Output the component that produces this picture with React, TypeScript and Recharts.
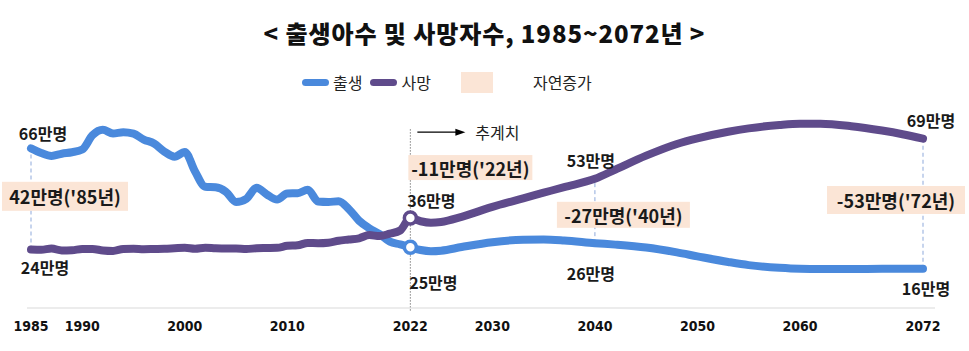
import { LineChart, Line, XAxis, YAxis, ReferenceLine, ReferenceDot } from "recharts";

// 연도별 출생아수 / 사망자수 (만명), 2023년 이후는 추계치
const years = [
  1985, 1986, 1987, 1988, 1989, 1990, 1991, 1992, 1993, 1994,
  1995, 1996, 1997, 1998, 1999, 2000, 2001, 2002, 2003, 2004,
  2005, 2006, 2007, 2008, 2009, 2010, 2011, 2012, 2013, 2014,
  2015, 2016, 2017, 2018, 2019, 2020, 2021, 2022,
  2023, 2024, 2025, 2027, 2030, 2033, 2035, 2037, 2040, 2042,
  2045, 2048, 2050, 2053, 2055, 2058, 2060, 2062, 2065, 2068, 2070, 2072,
];

const births = [
  65.5, 63.6, 62.4, 63.3, 63.9, 65.0, 70.9, 73.1, 71.6, 72.1,
  71.5, 69.1, 67.5, 64.2, 62.1, 64.0, 56.0, 49.7, 49.5, 47.7,
  43.5, 44.8, 49.3, 46.6, 44.5, 47.0, 47.1, 48.5, 43.7, 43.5,
  43.8, 40.6, 35.8, 32.7, 30.3, 27.2, 26.1, 24.9,
  23.8, 23.3, 23.5, 25.0, 27.0, 28.0, 28.1, 27.7, 26.6, 26.0,
  24.8, 22.8, 21.2, 18.9, 17.6, 16.5, 16.1, 16.0, 16.0, 16.1, 16.1, 16.1,
];

const deaths = [
  24.0, 23.9, 24.4, 23.6, 23.7, 24.2, 24.2, 23.6, 23.4, 24.2,
  24.3, 24.1, 24.2, 24.3, 24.5, 24.7, 24.3, 24.7, 24.5, 24.4,
  24.4, 24.2, 24.5, 24.6, 24.7, 25.5, 25.7, 26.7, 26.6, 26.8,
  27.6, 28.1, 28.6, 29.9, 29.5, 30.5, 31.8, 36.9,
  35.6, 35.0, 35.3, 37.4, 41.5, 45.0, 47.3, 49.6, 53.0, 56.8,
  62.5, 67.3, 69.6, 72.3, 73.7, 75.1, 75.6, 75.6, 74.6, 72.8, 71.3, 69.5,
];

const xTicks = [1985, 1990, 2000, 2010, 2022, 2030, 2040, 2050, 2060, 2072];

// 라벨: 기준점(연도, 값)과 문구
const valueNotes = [
  { year: 1985, value: 65.5, text: "66만명", dx: 12, dy: -15 },
  { year: 1985, value: 24.0, text: "24만명", dx: 14, dy: 17.5 },
  { year: 2022, value: 36.9, text: "36만명", dx: 21, dy: -18 },
  { year: 2022, value: 24.9, text: "25만명", dx: 23, dy: 35 },
  { year: 2040, value: 53.0, text: "53만명", dx: -4, dy: -19 },
  { year: 2040, value: 26.6, text: "26만명", dx: -4, dy: 30 },
  { year: 2072, value: 69.5, text: "69만명", dx: 8, dy: -18.6 },
  { year: 2072, value: 16.1, text: "16만명", dx: 3, dy: 19 },
];

const gapNotes = [
  { year: 1985, value: 45.0, text: "42만명('85년)", dx: 34, dy: -2, w: 126, h: 29 },
  { year: 2022, value: 36.9, text: "-11만명('22년)", dx: 60, dy: -50.5, w: 124, h: 25 },
  { year: 2040, value: 53.0, text: "-27만명('40년)", dx: 28.5, dy: 36, w: 133, h: 26 },
  { year: 2072, value: 69.5, text: "-53만명('72년)", dx: -27, dy: 61.4, w: 138, h: 28 },
];

const gapLines = [
  { year: 1985, from: 24.0, to: 65.5 },
  { year: 2040, from: 26.6, to: 53.0 },
  { year: 2072, from: 16.1, to: 69.5 },
];

const BLUE = "#4A89DC";
const PURPLE = "#5F4B8B";
const PEACH = "#FBE5D6";
const KR = "'Noto Sans CJK KR', 'Noto Sans', sans-serif";

const data = years.map((year, i) => ({ year, birth: births[i], death: deaths[i] }));

const App = () => {
  return (
    <div style={{ position: "absolute", left: 0, top: 0, width: 969, height: 351, background: "#fff", overflow: "hidden" }}>
      <div
        style={{
          position: "absolute", top: 17, left: 0, width: 969, textAlign: "center",
          fontFamily: KR, fontWeight: 900, fontSize: 24, lineHeight: "32px", color: "#111", letterSpacing: 0.9,
        }}
      >
        {"< 출생아수 및 사망자수, 1985~2072년 >"}
      </div>

      <div
        style={{
          position: "absolute", top: 71, left: 302, height: 22, display: "flex", alignItems: "center",
          fontFamily: KR, fontSize: 16, color: "#222",
        }}
      >
        <span style={{ width: 27, height: 7, borderRadius: 4, background: BLUE }} />
        <span style={{ marginLeft: 4 }}>출생</span>
        <span style={{ width: 27, height: 7, borderRadius: 4, background: PURPLE, marginLeft: 8 }} />
        <span style={{ marginLeft: 4 }}>사망</span>
        <span style={{ width: 32, height: 21, background: PEACH, marginLeft: 30 }} />
        <span style={{ marginLeft: 40 }}>자연증가</span>
      </div>

      <div style={{ position: "absolute", left: 0, top: 0 }}>
        <LineChart width={969} height={351} data={data} margin={{ top: 113, right: 34, bottom: 13, left: 27 }}>
          <XAxis
            dataKey="year"
            type="number"
            domain={[1985, 2072]}
            ticks={xTicks}
            interval={0}
            padding={{ left: 4, right: 12 }}
            height={30}
            axisLine={{ stroke: "#D9D9D9" }}
            tickLine={false}
            tickSize={6}
            tickMargin={7}
            tick={{ fill: "#111", fontSize: 14, fontWeight: 700, fontFamily: "'Liberation Sans Narrow', 'DejaVu Sans Condensed', sans-serif" }}
          />
          <YAxis hide domain={[0, 80]} />

          <ReferenceLine
            segment={[{ x: 2022, y: -1 }, { x: 2022, y: 74 }]}
            stroke="#444"
            strokeDasharray="1 2"
            ifOverflow="visible"
          />
          {gapLines.map((g) => (
            <ReferenceLine
              key={g.year}
              segment={[{ x: g.year, y: g.from }, { x: g.year, y: g.to }]}
              stroke="#8EA9DB"
              strokeDasharray="4 3"
              ifOverflow="visible"
            />
          ))}

          <Line type="monotone" dataKey="birth" stroke={BLUE} strokeWidth={8} strokeLinecap="round" dot={false} isAnimationActive={false} />
          <Line type="monotone" dataKey="death" stroke={PURPLE} strokeWidth={8} strokeLinecap="round" dot={false} isAnimationActive={false} />

          <ReferenceDot x={2022} y={births[37]} r={6} fill="#fff" stroke={BLUE} strokeWidth={3.5} ifOverflow="visible" />
          <ReferenceDot x={2022} y={deaths[37]} r={6} fill="#fff" stroke={PURPLE} strokeWidth={3.5} ifOverflow="visible" />

          <ReferenceDot
            x={2022}
            y={74}
            r={0}
            ifOverflow="visible"
            shape={(p: any) => (
              <g>
                <line x1={p.cx + 7} y1={p.cy + 4.5} x2={p.cx + 47} y2={p.cy + 4.5} stroke="#000" strokeWidth={1.3} />
                <polygon points={`${p.cx + 45},${p.cy + 1} ${p.cx + 55},${p.cy + 4.5} ${p.cx + 45},${p.cy + 8}`} fill="#000" />
                <text x={p.cx + 65} y={p.cy + 4.5} dominantBaseline="central" fontFamily={KR} fontSize={16} fill="#222">
                  추계치
                </text>
              </g>
            )}
          />

          {gapNotes.map((n) => (
            <ReferenceDot
              key={n.text}
              x={n.year}
              y={n.value}
              r={0}
              ifOverflow="visible"
              shape={(p: any) => (
                <g>
                  <rect x={p.cx + n.dx - n.w / 2} y={p.cy + n.dy - n.h / 2} width={n.w} height={n.h} fill={PEACH} />
                  <text
                    x={p.cx + n.dx}
                    y={p.cy + n.dy}
                    textAnchor="middle"
                    dominantBaseline="central"
                    fontFamily={KR}
                    fontWeight={700}
                    fontSize={18}
                    fill="#1a1a1a"
                  >
                    {n.text}
                  </text>
                </g>
              )}
            />
          ))}

          {valueNotes.map((n) => (
            <ReferenceDot
              key={n.text}
              x={n.year}
              y={n.value}
              r={0}
              ifOverflow="visible"
              shape={(p: any) => (
                <text
                  x={p.cx + n.dx}
                  y={p.cy + n.dy}
                  textAnchor="middle"
                  dominantBaseline="central"
                  fontFamily={KR}
                  fontWeight={700}
                  fontSize={16}
                  fill="#1a1a1a"
                >
                  {n.text}
                </text>
              )}
            />
          ))}
        </LineChart>
      </div>
    </div>
  );
};

export default App;
